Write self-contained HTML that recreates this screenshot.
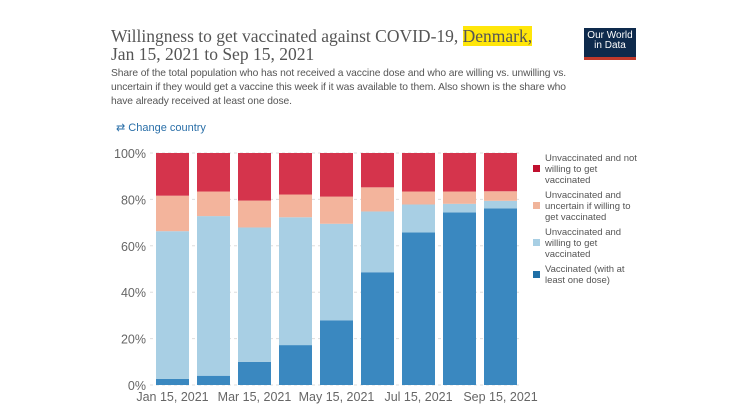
<!DOCTYPE html>
<html><head><meta charset="utf-8"><style>
body{margin:0;background:#fff;width:737px;height:415px;overflow:hidden;font-family:"Liberation Sans",sans-serif;position:relative}
.t{position:absolute;left:111px;top:27px;font-family:"Liberation Serif",serif;font-size:17.5px;color:#555;line-height:18px}
.hl{background:#ffe60a}
.sub{position:absolute;left:111px;top:67px;font-size:10.3px;color:#555;line-height:14px;width:480px;letter-spacing:-0.1px}
.cc{position:absolute;left:116px;top:121px;font-size:11px;color:#2a6fa8}
.logo{position:absolute;left:584px;top:28px;width:52px;height:26px;background:#0e2a4c;color:#fff;font-size:10px;line-height:10px;text-align:center;padding-top:3px;border-bottom:3px solid #c0392b}
</style></head><body>
<div class="t">Willingness to get vaccinated against COVID-19, <span class="hl">Denmark,</span><br>Jan 15, 2021 to Sep 15, 2021</div>
<div class="sub">Share of the total population who has not received a vaccine dose and who are willing vs. unwilling vs.<br>uncertain if they would get a vaccine this week if it was available to them. Also shown is the share who<br>have already received at least one dose.</div>
<div class="cc">⇄ Change country</div>
<div class="logo">Our World<br>in Data</div>
<svg id="c" width="737" height="415" style="position:absolute;left:0;top:0"></svg>
<script>
const categories=["Jan 15, 2021","Feb 15, 2021","Mar 15, 2021","Apr 15, 2021","May 15, 2021","Jun 15, 2021","Jul 15, 2021","Aug 15, 2021","Sep 15, 2021"];
const vaccinated=[2.6,4.0,10,17.2,27.9,48.6,65.8,74.4,76.1];
const willing=[63.7,68.8,57.9,55.1,41.6,26.2,12.0,3.7,3.3];
const uncertain=[15.3,10.6,11.6,9.8,11.7,10.4,5.6,5.3,4.1];
const unwilling=[18.4,16.6,20.5,17.9,18.8,14.8,16.6,16.6,16.5];
const yTicks=[0,20,40,60,80,100];
const xLabelIdx=[0,2,4,6,8];
const svg=document.getElementById('c');const NS='http://www.w3.org/2000/svg';
const y=v=>385-v*2.32, x=i=>156+i*41, bw=33;
function mk(t,a){const e=document.createElementNS(NS,t);for(const k in a)e.setAttribute(k,a[k]);svg.appendChild(e);return e;}
yTicks.forEach(v=>{
 const l=mk('line',{x1:150,x2:520,y1:y(v),y2:y(v),stroke:'#ddd','stroke-dasharray':'3,3'});
 
 
 const t=mk('text',{x:146,y:y(v)+5,'text-anchor':'end','font-size':12.5,fill:'#666','font-family':'Liberation Sans,sans-serif'});t.textContent=v+'%';
 
 
});
const series=[[vaccinated,'#3a88c0','vaccinated'],[willing,'#a8cfe4','willing'],[uncertain,'#f3b49c','uncertain'],[unwilling,'#d5344c','unwilling']];
categories.forEach((c,i)=>{let base=0;series.forEach(([arr,col,n])=>{
 const r=mk('rect',{x:x(i),y:y(base+arr[i]),width:bw,height:arr[i]*2.32,fill:col});
 
 
 base+=arr[i];});});
xLabelIdx.forEach(i=>{const t=mk('text',{x:x(i)+bw/2,y:401,'text-anchor':'middle','font-size':12.5,fill:'#666','font-family':'Liberation Sans,sans-serif'});t.textContent=categories[i];
 
 });
const legend=[['#c0102f',["Unvaccinated and not","willing to get","vaccinated"],158],['#f0b49a',["Unvaccinated and","uncertain if willing to","get vaccinated"],195],['#a8cfe4',["Unvaccinated and","willing to get","vaccinated"],232],['#1f6fa6',["Vaccinated (with at","least one dose)"],269]];
legend.forEach(([col,lines,ty],k)=>{
 const s=mk('rect',{x:533,y:ty+(lines.length==3?7:2),width:7,height:7,fill:col});
 
 
 lines.forEach((ln,j)=>{const t=mk('text',{x:545,y:ty+3+j*11,'font-size':9.5,fill:'#555','font-family':'Liberation Sans,sans-serif'});t.textContent=ln;
 
 });
});
</script>
</body></html>
